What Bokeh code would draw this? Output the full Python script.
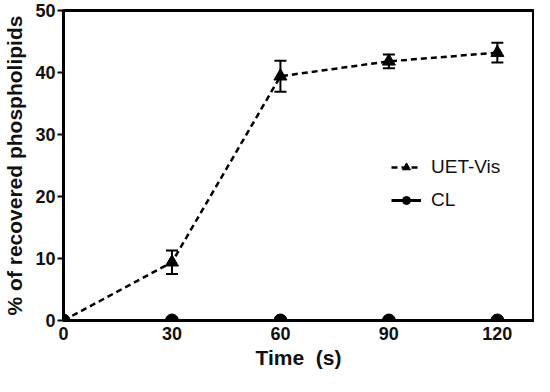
from bokeh.plotting import figure
from bokeh.models import ColumnDataSource, Whisker, TeeHead, Legend, LegendItem, FixedTicker, Range1d
from bokeh.embed import file_html
from bokeh.resources import INLINE

time_s = [0, 30, 60, 90, 120]
uet_vis = [0.0, 9.4, 39.4, 41.8, 43.2]
uet_err = [0.0, 1.9, 2.5, 1.1, 1.6]
cl = [0.0, 0.0, 0.0, 0.0, 0.0]
x_ticks = [0, 30, 60, 90, 120]
y_ticks = [0, 10, 20, 30, 40, 50]

src = ColumnDataSource(dict(
    x=time_s, y=uet_vis,
    up=[v + e for v, e in zip(uet_vis, uet_err)],
    lo=[v - e for v, e in zip(uet_vis, uet_err)],
    cl=cl,
))

p = figure(width=534, height=376, output_backend="svg", toolbar_location=None,
           x_range=Range1d(0, 130), y_range=Range1d(0, 50),
           min_border_left=61, min_border_right=1, min_border_top=10, min_border_bottom=56)
p.grid.visible = False
p.outline_line_color = "black"
p.outline_line_width = 3

FONT = "Liberation Sans"
for ax in (p.xaxis[0], p.yaxis[0]):
    ax.axis_line_width = 3
    ax.axis_line_color = "black"
    ax.major_label_text_font = FONT
    ax.major_label_text_font_style = "bold"
    ax.major_label_text_font_size = "18px"
    ax.major_label_text_color = "#111111"
    ax.axis_label_text_font = FONT
    ax.axis_label_text_font_style = "bold"
    ax.axis_label_text_font_size = "21px"
    ax.axis_label_text_color = "#111111"
    ax.minor_tick_line_color = None

p.xaxis.ticker = FixedTicker(ticks=x_ticks)
p.yaxis.ticker = FixedTicker(ticks=y_ticks)
p.xaxis.major_tick_line_color = None
p.xaxis.major_tick_out = 0
p.xaxis.major_tick_in = 0
p.xaxis.major_label_standoff = 6
p.yaxis.major_tick_out = 6
p.yaxis.major_tick_in = 0
p.yaxis.major_tick_line_width = 2
p.yaxis.major_label_standoff = 2
p.xaxis.axis_label = "Time \u00a0(s)"
p.yaxis.axis_label = "% of recovered phospholipids"
p.xaxis.axis_label_standoff = 3
p.yaxis.axis_label_standoff = 6

cl_line = p.line("x", "cl", source=src, line_color="black", line_width=3)
cl_pts = p.scatter("x", "cl", source=src, marker="circle", size=13, color="black")

uv_line = p.line("x", "y", source=src, line_color="black", line_width=2.5, line_dash="6 4")
w = Whisker(base="x", upper="up", lower="lo", source=src, line_width=2, line_color="black",
            upper_head=TeeHead(size=12, line_width=2, line_color="black"),
            lower_head=TeeHead(size=12, line_width=2, line_color="black"))
p.add_layout(w)
uv_pts = p.scatter("x", "y", source=src, marker="triangle", size=13, color="black")

legend = Legend(items=[
    LegendItem(label="UET-Vis", renderers=[uv_line, uv_pts]),
    LegendItem(label="CL", renderers=[cl_line, cl_pts]),
], location=(328, 109))
legend.label_text_font = FONT
legend.label_text_font_size = "19px"
legend.label_text_color = "#111111"
legend.border_line_color = None
legend.background_fill_alpha = 0
legend.glyph_width = 30
legend.label_standoff = 10
legend.spacing = 11
p.add_layout(legend)

open("out.html", "w").write(file_html(p, INLINE))
